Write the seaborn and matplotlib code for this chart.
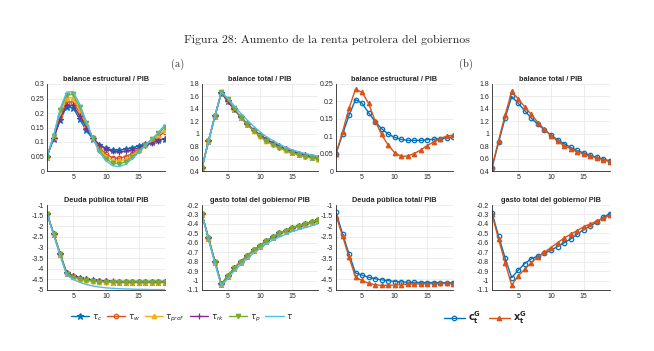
import numpy as np
import pandas as pd
import matplotlib
matplotlib.use("Agg")
import matplotlib.pyplot as plt
from matplotlib.ticker import FuncFormatter
import seaborn as sns

# ---------------- data ----------------
periods = list(range(1, 20))

series_a = ["tau_c", "tau_w", "tau_prof", "tau_rk", "tau_p", "tau"]
labels_a = [r"$\tau_c$", r"$\tau_w$", r"$\tau_{prof}$", r"$\tau_{rk}$", r"$\tau_p$", r"$\tau$"]
series_b = ["cG", "xG"]
labels_b = [r"$\mathbf{c_t^G}$", r"$\mathbf{x_t^G}$"]

titles = ["balance estructural / PIB", "balance total / PIB",
          "Deuda pública total/ PIB", "gasto total del gobierno/ PIB"]

# (a) balance estructural / PIB
a_be_tau_c = [0.05, 0.11, 0.175, 0.222, 0.218, 0.178, 0.14, 0.11, 0.09, 0.078, 0.073, 0.072, 0.075, 0.08, 0.087, 0.094, 0.1, 0.106, 0.112]
a_be_tau_w = [0.05, 0.115, 0.19, 0.238, 0.238, 0.2, 0.155, 0.115, 0.08, 0.058, 0.046, 0.044, 0.05, 0.06, 0.075, 0.09, 0.105, 0.12, 0.135]
a_be_tau_prof = [0.05, 0.118, 0.2, 0.252, 0.252, 0.21, 0.16, 0.115, 0.075, 0.05, 0.036, 0.034, 0.04, 0.055, 0.072, 0.09, 0.108, 0.125, 0.143]
a_be_tau_rk = [0.05, 0.113, 0.18, 0.228, 0.226, 0.19, 0.15, 0.115, 0.09, 0.075, 0.068, 0.066, 0.068, 0.073, 0.08, 0.088, 0.097, 0.105, 0.112]
a_be_tau_p = [0.05, 0.12, 0.21, 0.262, 0.264, 0.22, 0.165, 0.113, 0.07, 0.042, 0.027, 0.025, 0.032, 0.048, 0.068, 0.09, 0.11, 0.13, 0.152]
a_be_tau = [0.05, 0.12, 0.215, 0.272, 0.274, 0.23, 0.17, 0.112, 0.065, 0.035, 0.018, 0.015, 0.024, 0.042, 0.064, 0.088, 0.11, 0.133, 0.16]

# (a) balance total / PIB
a_bt_tau_c = [0.45, 0.88, 1.28, 1.66, 1.52, 1.39, 1.27, 1.16, 1.06, 0.98, 0.91, 0.85, 0.8, 0.75, 0.71, 0.68, 0.65, 0.63, 0.61]
a_bt_tau_w = [0.45, 0.88, 1.28, 1.66, 1.53, 1.4, 1.27, 1.16, 1.06, 0.97, 0.9, 0.84, 0.79, 0.74, 0.7, 0.67, 0.64, 0.62, 0.6]
a_bt_tau_prof = [0.45, 0.88, 1.28, 1.66, 1.54, 1.4, 1.27, 1.15, 1.05, 0.96, 0.89, 0.83, 0.78, 0.74, 0.7, 0.67, 0.64, 0.62, 0.6]
a_bt_tau_rk = [0.45, 0.88, 1.28, 1.66, 1.52, 1.39, 1.27, 1.16, 1.06, 0.98, 0.91, 0.85, 0.8, 0.75, 0.71, 0.68, 0.65, 0.63, 0.61]
a_bt_tau_p = [0.45, 0.88, 1.28, 1.67, 1.56, 1.41, 1.27, 1.15, 1.05, 0.96, 0.88, 0.82, 0.77, 0.73, 0.69, 0.66, 0.63, 0.61, 0.6]
a_bt_tau = [0.45, 0.88, 1.28, 1.67, 1.57, 1.45, 1.33, 1.22, 1.12, 1.03, 0.95, 0.89, 0.83, 0.78, 0.74, 0.71, 0.68, 0.66, 0.64]

# (a) Deuda pública total / PIB
a_dp_tau_c = [-1.4, -2.35, -3.3, -4.2, -4.33, -4.43, -4.5, -4.54, -4.57, -4.59, -4.6, -4.6, -4.6, -4.6, -4.6, -4.6, -4.6, -4.6, -4.6]
a_dp_tau_w = [-1.4, -2.35, -3.3, -4.22, -4.36, -4.46, -4.52, -4.56, -4.59, -4.6, -4.61, -4.61, -4.61, -4.61, -4.61, -4.61, -4.61, -4.61, -4.61]
a_dp_tau_prof = [-1.4, -2.35, -3.3, -4.22, -4.37, -4.47, -4.53, -4.57, -4.6, -4.61, -4.62, -4.62, -4.62, -4.62, -4.62, -4.62, -4.62, -4.62, -4.62]
a_dp_tau_rk = [-1.4, -2.35, -3.3, -4.2, -4.32, -4.42, -4.49, -4.53, -4.56, -4.58, -4.59, -4.6, -4.6, -4.6, -4.6, -4.6, -4.6, -4.6, -4.6]
a_dp_tau_p = [-1.4, -2.35, -3.3, -4.23, -4.38, -4.48, -4.54, -4.58, -4.6, -4.62, -4.62, -4.62, -4.62, -4.62, -4.62, -4.62, -4.62, -4.62, -4.62]
a_dp_tau = [-1.4, -2.4, -3.38, -4.3, -4.5, -4.64, -4.74, -4.81, -4.86, -4.9, -4.92, -4.94, -4.95, -4.96, -4.97, -4.97, -4.98, -4.98, -4.98]

# (a) gasto total del gobierno / PIB
a_gt_tau_c = [-0.3, -0.55, -0.8, -1.04, -0.95, -0.87, -0.8, -0.74, -0.68, -0.63, -0.58, -0.54, -0.5, -0.47, -0.44, -0.42, -0.4, -0.38, -0.36]
a_gt_tau_w = [-0.3, -0.55, -0.8, -1.04, -0.95, -0.87, -0.8, -0.74, -0.68, -0.63, -0.58, -0.54, -0.5, -0.47, -0.44, -0.42, -0.4, -0.38, -0.36]
a_gt_tau_prof = [-0.3, -0.55, -0.8, -1.04, -0.95, -0.87, -0.8, -0.74, -0.68, -0.63, -0.58, -0.54, -0.5, -0.47, -0.44, -0.42, -0.4, -0.38, -0.36]
a_gt_tau_rk = [-0.3, -0.55, -0.8, -1.04, -0.95, -0.87, -0.8, -0.74, -0.68, -0.63, -0.58, -0.54, -0.5, -0.47, -0.44, -0.42, -0.4, -0.38, -0.36]
a_gt_tau_p = [-0.3, -0.55, -0.8, -1.04, -0.95, -0.87, -0.8, -0.74, -0.68, -0.63, -0.58, -0.54, -0.5, -0.47, -0.44, -0.42, -0.4, -0.38, -0.36]
a_gt_tau = [-0.3, -0.56, -0.82, -1.06, -0.98, -0.9, -0.83, -0.77, -0.71, -0.66, -0.61, -0.57, -0.54, -0.51, -0.48, -0.46, -0.44, -0.42, -0.4]

# (b) balance estructural / PIB
b_be_cG = [0.05, 0.105, 0.16, 0.205, 0.195, 0.168, 0.142, 0.122, 0.106, 0.097, 0.091, 0.088, 0.088, 0.088, 0.09, 0.091, 0.093, 0.095, 0.097]
b_be_xG = [0.05, 0.112, 0.18, 0.235, 0.226, 0.195, 0.145, 0.105, 0.075, 0.053, 0.042, 0.043, 0.05, 0.06, 0.073, 0.083, 0.093, 0.1, 0.103]

# (b) balance total / PIB
b_bt_cG = [0.45, 0.86, 1.25, 1.6, 1.49, 1.37, 1.25, 1.15, 1.06, 0.98, 0.9, 0.84, 0.78, 0.73, 0.69, 0.65, 0.62, 0.59, 0.56]
b_bt_xG = [0.46, 0.89, 1.3, 1.68, 1.56, 1.43, 1.31, 1.18, 1.07, 0.97, 0.88, 0.81, 0.76, 0.71, 0.67, 0.64, 0.61, 0.58, 0.55]

# (b) Deuda pública total / PIB
b_dp_cG = [-1.35, -2.35, -3.3, -4.2, -4.3, -4.4, -4.47, -4.52, -4.56, -4.6, -4.62, -4.63, -4.64, -4.65, -4.65, -4.65, -4.65, -4.66, -4.66]
b_dp_xG = [-1.5, -2.45, -3.45, -4.4, -4.55, -4.68, -4.75, -4.78, -4.78, -4.77, -4.75, -4.73, -4.72, -4.71, -4.7, -4.7, -4.69, -4.69, -4.7]

# (b) gasto total del gobierno / PIB
b_gt_cG = [-0.28, -0.53, -0.76, -0.97, -0.89, -0.82, -0.77, -0.74, -0.71, -0.68, -0.64, -0.6, -0.56, -0.51, -0.46, -0.42, -0.38, -0.33, -0.29]
b_gt_xG = [-0.3, -0.56, -0.81, -1.05, -0.95, -0.88, -0.81, -0.75, -0.7, -0.65, -0.6, -0.55, -0.51, -0.47, -0.43, -0.4, -0.37, -0.34, -0.31]

x_ticks = [5, 10, 15]
y_ticks_be_a = [0, 0.05, 0.1, 0.15, 0.2, 0.25, 0.3]
y_ticks_bt = [0.4, 0.6, 0.8, 1.0, 1.2, 1.4, 1.6, 1.8]
y_ticks_be_b = [0, 0.05, 0.1, 0.15, 0.2, 0.25]
y_ticks_dp = [-5, -4.5, -4, -3.5, -3, -2.5, -2, -1.5, -1]
y_ticks_gt = [-1.1, -1.0, -0.9, -0.8, -0.7, -0.6, -0.5, -0.4, -0.3, -0.2]

# ---------------- style ----------------
sns.set_theme(style="whitegrid")
plt.rcParams["font.family"] = ["Liberation Sans", "DejaVu Sans"]
plt.rcParams["mathtext.fontset"] = "dejavusans"

colors_a = ["#0072BD", "#D95319", "#EDB120", "#7E2F8E", "#77AC30", "#4DBEEE"]
markers_a = ["*", "o", "^", "+", "v", None]
colors_b = ["#0072BD", "#D95319"]
markers_b = ["o", "^"]

fig = plt.figure(figsize=(6.54, 3.51), dpi=100)
W, H = 654.0, 351.0

def add_ax(x0, y0, x1, y1):
    return fig.add_axes([x0 / W, 1 - y1 / H, (x1 - x0) / W, (y1 - y0) / H])

cols = [(47, 165), (202, 318), (336, 453), (492, 610)]
top = (84, 171)
bot = (205, 290)

def fmt(v, pos):
    return "%g" % round(v, 4)

def style_ax(ax, title, yticks):
    ax.set_xlim(1, 19)
    ax.set_ylim(yticks[0], yticks[-1])
    ax.set_xticks(x_ticks)
    ax.set_yticks(yticks)
    ax.yaxis.set_major_formatter(FuncFormatter(fmt))
    ax.tick_params(labelsize=5, length=0, pad=2)
    ax.grid(True, color="#e6e6e6", linewidth=0.5)
    for s in ["top", "right"]:
        ax.spines[s].set_visible(False)
    for s in ["left", "bottom"]:
        ax.spines[s].set_color("#262626")
        ax.spines[s].set_linewidth(0.6)
    ax.set_title(title, fontsize=5.3, fontweight="bold", pad=2)
    ax.set_xlabel("")
    ax.set_ylabel("")
    if ax.get_legend() is not None:
        ax.get_legend().remove()

def draw(ax, datas, colors, markers, labels):
    for d, c, m, lab in zip(datas, colors, markers, labels):
        kw = dict(color=c, linewidth=1.0, linestyle="-")
        if m is not None:
            kw["marker"] = m
            kw["markersize"] = 4.5 if m == "*" else (4.0 if m == "+" else 3.2)
            kw["markeredgecolor"] = c
            kw["markeredgewidth"] = 0.9
            kw["markerfacecolor"] = "none" if m == "o" else c
        sns.lineplot(x=periods, y=d, ax=ax, label=lab, **kw)
    return ax.get_legend_handles_labels()

# (a) panels
a_be = [a_be_tau_c, a_be_tau_w, a_be_tau_prof, a_be_tau_rk, a_be_tau_p, a_be_tau]
a_bt = [a_bt_tau_c, a_bt_tau_w, a_bt_tau_prof, a_bt_tau_rk, a_bt_tau_p, a_bt_tau]
a_dp = [a_dp_tau_c, a_dp_tau_w, a_dp_tau_prof, a_dp_tau_rk, a_dp_tau_p, a_dp_tau]
a_gt = [a_gt_tau_c, a_gt_tau_w, a_gt_tau_prof, a_gt_tau_rk, a_gt_tau_p, a_gt_tau]

ax = add_ax(cols[0][0], top[0], cols[0][1], top[1])
h_a, l_a = draw(ax, a_be, colors_a, markers_a, labels_a)
style_ax(ax, titles[0], y_ticks_be_a)

ax = add_ax(cols[1][0], top[0], cols[1][1], top[1])
draw(ax, a_bt, colors_a, markers_a, labels_a)
style_ax(ax, titles[1], y_ticks_bt)

ax = add_ax(cols[0][0], bot[0], cols[0][1], bot[1])
draw(ax, a_dp, colors_a, markers_a, labels_a)
style_ax(ax, titles[2], y_ticks_dp)

ax = add_ax(cols[1][0], bot[0], cols[1][1], bot[1])
draw(ax, a_gt, colors_a, markers_a, labels_a)
style_ax(ax, titles[3], y_ticks_gt)

# (b) panels
ax = add_ax(cols[2][0], top[0], cols[2][1], top[1])
h_b, l_b = draw(ax, [b_be_cG, b_be_xG], colors_b, markers_b, labels_b)
style_ax(ax, titles[0], y_ticks_be_b)

ax = add_ax(cols[3][0], top[0], cols[3][1], top[1])
draw(ax, [b_bt_cG, b_bt_xG], colors_b, markers_b, labels_b)
style_ax(ax, titles[1], y_ticks_bt)

ax = add_ax(cols[2][0], bot[0], cols[2][1], bot[1])
draw(ax, [b_dp_cG, b_dp_xG], colors_b, markers_b, labels_b)
style_ax(ax, titles[2], y_ticks_dp)

ax = add_ax(cols[3][0], bot[0], cols[3][1], bot[1])
draw(ax, [b_gt_cG, b_gt_xG], colors_b, markers_b, labels_b)
style_ax(ax, titles[3], y_ticks_gt)

# legends
fig.legend(h_a, l_a, loc="center", bbox_to_anchor=(182 / W, 1 - 318 / H), ncol=6,
           frameon=False, fontsize=6, handlelength=2.2, columnspacing=0.6, handletextpad=0.3)
fig.legend(h_b, l_b, loc="center", bbox_to_anchor=(485 / W, 1 - 318 / H), ncol=2,
           frameon=False, fontsize=7, handlelength=2.2, columnspacing=0.8, handletextpad=0.3)

# titles
fig.text(0.5, 1 - 40 / H, "Figura 28: Aumento de la renta petrolera del gobiernos",
         ha="center", va="center", fontsize=8.5, family="cmr10")
fig.text(178 / W, 1 - 64 / H, "(a)", ha="center", va="center", fontsize=7.5, family="cmr10")
fig.text(466 / W, 1 - 64 / H, "(b)", ha="center", va="center", fontsize=7.5, family="cmr10")

fig.savefig("out.png", dpi=100)
